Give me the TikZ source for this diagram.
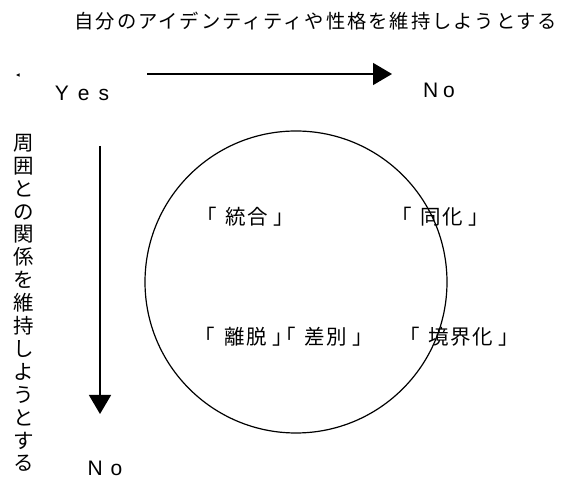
\documentclass[tikz,border=0pt]{standalone}
\usepackage{fontspec}
\setmainfont{Noto Sans CJK JP}
\newfontfamily\latinf{Liberation Sans}
\usetikzlibrary{arrows.meta}
\newcommand{\ob}{「\hspace{9pt}}
\newcommand{\cb}{\hspace{6pt}」}
\begin{document}
\begin{tikzpicture}[x=1pt,y=-1pt,
  ttl/.style={inner sep=0pt,font=\fontsize{19.3}{19.3}\selectfont\addfontfeature{LetterSpace=10}},
  lbl/.style={inner sep=0pt,font=\fontsize{20.5}{20.5}\selectfont\addfontfeature{RawFeature=+palt,LetterSpace=8}},
  lat/.style={inner sep=0pt,font=\latinf\fontsize{21}{21}\selectfont},
  arr/.style={line width=1.5pt,-{Triangle[length=19pt,width=22pt]}}]
\useasboundingbox (0,0) rectangle (566,478);
\node[ttl] (title) at (316,21) {自分のアイデンティティや性格を維持しようとする};
\node[lat] (yes) at (82,93) {Y\hspace{9pt}e\hspace{9pt}s};
\node[lat] (notop) at (439,90) {N\hspace{5pt}o};
\node[lat] (nobot) at (105,468) {N\hspace{8pt}o};
\node[inner sep=0pt,align=center,font=\fontsize{20.5}{22.9}\selectfont] (vert) at (24,303)
 {周\\囲\\と\\の\\関\\係\\を\\維\\持\\し\\よ\\う\\と\\す\\る};
\coordinate (h1) at (147,74);
\coordinate (h2) at (392,74);
\coordinate (v1) at (100,146);
\coordinate (v2) at (100,414);
\draw[arr] (h1) -- (h2);
\draw[arr] (v1) -- (v2);
\fill (16,75) -- (19.5,73.3) -- (19.5,76.7) -- cycle;
\node[draw,circle,line width=1.2pt,minimum size=302pt,inner sep=0pt] (circ) at (296,282) {};
\node[lbl] (togo) at (245,217) {\ob 統合\cb};
\node[lbl] (doka) at (440,217) {\ob 同化\cb};
\node[lbl] (ridatsu) at (284,337) {\ob 離脱\cb\hspace{2pt}\ob 差別\cb};
\node[lbl] (kyokai) at (459,337) {\ob 境界化\cb};
\end{tikzpicture}
\end{document}
